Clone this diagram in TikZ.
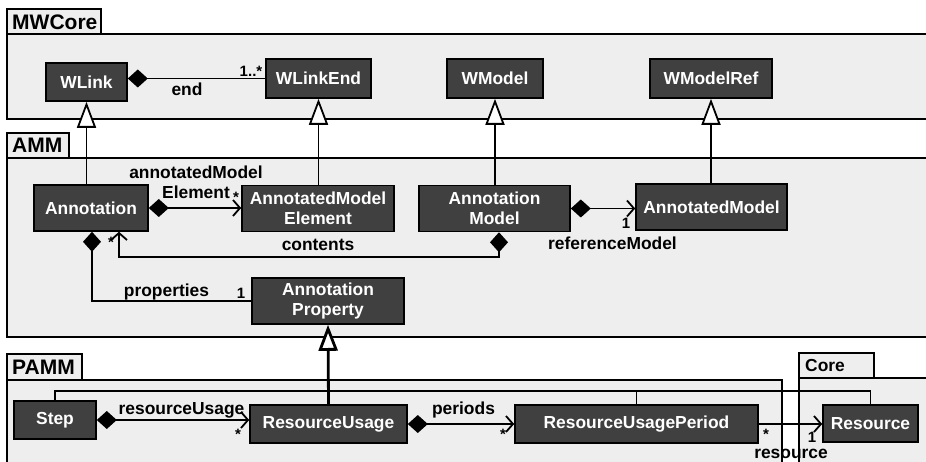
\documentclass[tikz,border=0pt]{standalone}
\usepackage{fontspec}
\setmainfont{Liberation Sans}
\usetikzlibrary{arrows.meta,calc}
\definecolor{boxfill}{HTML}{404040}
\definecolor{pkgfill}{HTML}{EEEEEE}
\begin{document}
\begin{tikzpicture}[x=1pt,y=-1pt,
  cls/.style={draw=black, line width=1.6pt, fill=boxfill, text=white, font=\fontsize{17.4}{20}\selectfont\bfseries, align=center, inner sep=0pt},
  pkg/.style={draw=black, line width=1.6pt, fill=pkgfill},
  pkgname/.style={font=\fontsize{21}{24}\selectfont\bfseries, anchor=west, inner sep=0pt},
  lbl/.style={font=\fontsize{17.4}{20}\selectfont\bfseries, inner sep=0pt, align=center},
  mult/.style={font=\fontsize{15}{16}\selectfont\bfseries, inner sep=0pt},
  conn/.style={line width=1.8pt},
  comp/.style={conn, {Diamond[length=20pt,width=18pt]}-{Straight Barb[length=7pt,width=16pt]}},
  compplain/.style={conn, {Diamond[length=20pt,width=18pt]}-},
  nav/.style={conn, -{Straight Barb[length=7pt,width=16pt]}},
  gen/.style={conn, -{Triangle[length=26pt,width=19pt,fill=white]}},
]
\useasboundingbox (0,0) rectangle (926,462);
\clip (0,0) rectangle (926,462);
\fill[white] (0,0) rectangle (926,462);

% packages
\draw[pkg] (7,34) rectangle (940,119);
\draw[pkg] (7,9) rectangle (101,34);
\node[pkgname] (pMWCore) at (12,22.5) {MWCore};

\draw[pkg] (7,158) rectangle (940,337);
\draw[pkg] (7,133) rectangle (69,158);
\node[pkgname] (pAMM) at (12,145.5) {AMM};

\draw[pkg] (7,380) rectangle (782,480);
\draw[pkg] (7,354) rectangle (82,380);
\node[pkgname] (pPAMM) at (12,367) {PAMM};

\draw[pkg] (799,378) rectangle (940,480);
\draw[pkg] (799,353) rectangle (874,378);
\node[pkgname, font=\fontsize{17.4}{20}\selectfont\bfseries] (pCore) at (805,365.5) {Core};

% classes
\node[cls, minimum width=81pt, minimum height=38pt] (WLink) at (86.5,82) {WLink};
\node[cls, minimum width=105pt, minimum height=39pt] (WLinkEnd) at (318.5,78.5) {WLinkEnd};
\node[cls, minimum width=96pt, minimum height=39pt] (WModel) at (495,78.5) {WModel};
\node[cls, minimum width=122pt, minimum height=39pt] (WModelRef) at (711,78.5) {WModelRef};

\node[cls, minimum width=114pt, minimum height=46pt] (Annotation) at (91,208) {Annotation};
\node[cls, minimum width=152pt, minimum height=46pt] (AME) at (318,208.5) {AnnotatedModel\\Element};
\node[cls, minimum width=151pt, minimum height=46pt] (AnnModel) at (494.5,208.5) {Annotation\\Model};
\node[cls, minimum width=151pt, minimum height=46pt] (AnnotatedModel) at (711.5,207) {AnnotatedModel};
\node[cls, minimum width=152pt, minimum height=46pt] (AnnProp) at (328,301) {Annotation\\Property};

\node[cls, minimum width=82pt, minimum height=38pt] (Step) at (55,420) {Step};
\node[cls, minimum width=157pt, minimum height=38pt] (RU) at (328.5,424) {ResourceUsage};
\node[cls, minimum width=243pt, minimum height=38pt] (RUP) at (636.5,424) {ResourceUsagePeriod};
\node[cls, minimum width=95pt, minimum height=37pt] (Resource) at (870.5,423.5) {Resource};

% MWCore connectors
\draw[compplain] (WLink.east |- WLinkEnd.west) -- (WLinkEnd.west);
\node[mult] (m1) at (251,71) {1..*};
\node[lbl] (lend) at (187,89) {end};

% generalizations to MWCore
\draw[gen] (Annotation.north -| WLink.south) -- (WLink.south);
\draw[gen] (AME.north -| WLinkEnd.south) -- (WLinkEnd.south);
\draw[gen] (AnnModel.north -| WModel.south) -- (WModel.south);
\draw[gen] (AnnotatedModel.north -| WModelRef.south) -- (WModelRef.south);

% AMM connectors
\draw[comp] (Annotation.east) -- (Annotation.east -| AME.west);
\node[lbl] (lame) at (196,182) {annotatedModel\\Element};
\node[mult] (m2) at (236,197) {*};

\draw[comp] (AnnModel.east) -- (AnnModel.east -| AnnotatedModel.west);
\node[mult] (m3) at (626,223) {1};
\node[lbl] (lref) at (612.5,243) {referenceModel};

\draw[comp] ([xshift=4.5pt]AnnModel.south) -- ++(0,24.5) -| ([xshift=28pt]Annotation.south);
\node[lbl] (lcont) at (318,245) {contents};
\node[mult] (m4) at (111,242) {*};

\draw[compplain] ([xshift=1pt]Annotation.south) |- (AnnProp.west);
\node[lbl] (lprop) at (166.5,292.5) {properties};
\node[mult] (m5) at (241,293) {1};

% PAMM tree to AnnotationProperty
\coordinate (treey) at ($(Step.north)+(0,-9)$);
\draw[conn] (Step.north) -- (treey) -| (Resource.north);
\draw[conn] (RUP.north) -- (RUP.north |- treey);
\draw[gen, line width=2.8pt] (RU.north) -- (AnnProp.south);

% PAMM connectors
\draw[comp] (Step.east) -- (Step.east -| RU.west);
\node[lbl] (lru) at (181.5,410) {resourceUsage};
\node[mult] (m6) at (238,434) {*};

\draw[comp] (RU.east) -- (RU.east -| RUP.west);
\node[lbl] (lper) at (463.5,410) {periods};
\node[mult] (m7) at (503,434) {*};

\draw[nav] (RUP.east) -- (RUP.east -| Resource.west);
\node[mult] (m8) at (766,434) {*};
\node[mult] (m9) at (812,437) {1};
\node[lbl] (lres) at (791,453.5) {resource};

\end{tikzpicture}
\end{document}
